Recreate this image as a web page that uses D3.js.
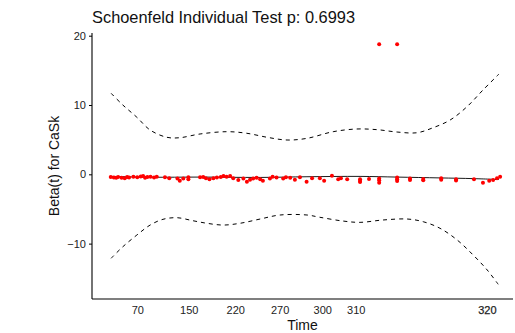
<!DOCTYPE html>
<html>
<head>
<meta charset="utf-8">
<script src="https://cdn.jsdelivr.net/npm/d3@7"></script>
<style>
  body { margin: 0; background: #fff; }
  svg { display: block; font-family: "Liberation Sans", Arial, sans-serif; }
</style>
</head>
<body>
<svg id="chart" width="515" height="333"></svg>
<script>
// transformed (km) time of each residual and its scaled Schoenfeld residual
const residTime = [0.002, 0.010, 0.016, 0.021, 0.030, 0.038, 0.044, 0.049, 0.060, 0.070, 0.079, 0.085,
  0.090, 0.096, 0.104, 0.113, 0.120, 0.141, 0.152, 0.173, 0.179, 0.188, 0.201, 0.201,
  0.231, 0.239, 0.246, 0.255, 0.265, 0.274, 0.284, 0.291, 0.299, 0.308, 0.316,
  0.329, 0.342, 0.351, 0.359, 0.367, 0.376, 0.385, 0.392, 0.410, 0.417, 0.427,
  0.444, 0.451, 0.462, 0.474, 0.487, 0.504, 0.518, 0.538, 0.549, 0.569, 0.585,
  0.592, 0.608, 0.641, 0.641, 0.641, 0.664, 0.690, 0.690, 0.690, 0.736, 0.736,
  0.736, 0.769, 0.769, 0.803, 0.803, 0.849, 0.849, 0.887, 0.887, 0.933, 0.956,
  0.972, 0.982, 0.992, 1.000, 0.690, 0.736];
const residBeta = [-0.40, -0.45, -0.50, -0.38, -0.50, -0.58, -0.40, -0.45, -0.35, -0.42, -0.30, -0.25,
  -0.50, -0.40, -0.35, -0.45, -0.35, -0.43, -0.58, -0.60, -0.92, -0.60, -0.43, -0.70,
  -0.43, -0.40, -0.55, -0.72, -0.55, -0.45, -0.40, -0.25, -0.35, -0.25, -0.58,
  -0.82, -0.60, -1.07, -0.80, -0.60, -0.50, -0.72, -0.92, -0.60, -0.35, -0.45,
  -0.60, -0.43, -0.50, -0.80, -0.43, -1.07, -0.58, -0.58, -0.92, -0.20, -0.72,
  -0.58, -0.72, -0.70, -0.95, -1.10, -0.68, -0.60, -0.85, -1.20, -0.45, -0.70,
  -0.95, -0.82, -0.60, -0.68, -0.85, -0.58, -0.80, -0.72, -0.90, -0.72, -1.21,
  -0.92, -0.82, -0.58, -0.35, 18.76, 18.76];

// smoothed beta(t)
const fitTime = [0.003, 0.103, 0.231, 0.385, 0.505, 0.641, 0.736, 0.846, 0.931, 0.997];
const fitBeta = [-0.30, -0.42, -0.40, -0.45, -0.35, -0.30, -0.40, -0.52, -0.62, -0.75];

// confidence band
const upperTime = [0.003, 0.033, 0.069, 0.103, 0.146, 0.179, 0.231, 0.300, 0.351, 0.403,
  0.454, 0.505, 0.572, 0.633, 0.685, 0.736, 0.787, 0.828, 0.872, 0.915, 0.956, 0.997];
const upperBeta = [11.69, 10.0, 8.23, 6.39, 5.34, 5.28, 5.82, 6.15, 5.92, 5.34,
  4.95, 5.19, 6.15, 6.54, 6.44, 6.10, 6.00, 6.72, 7.84, 9.75, 12.16, 14.47];
const lowerTime = [0.003, 0.033, 0.069, 0.103, 0.136, 0.172, 0.213, 0.249, 0.290, 0.333,
  0.385, 0.436, 0.505, 0.538, 0.597, 0.641, 0.700, 0.762, 0.803, 0.846, 0.890, 0.931,
  0.967, 0.995];
const lowerBeta = [-12.12, -10.45, -8.76, -7.32, -6.49, -6.26, -6.70, -7.07, -7.32, -7.07,
  -6.45, -5.87, -5.87, -6.20, -6.74, -6.93, -6.59, -6.45, -6.84, -7.79, -9.48, -11.65,
  -13.81, -15.87];

// x axis: transformed positions and original time labels
const xTickPos = [0.070, 0.202, 0.321, 0.435, 0.544, 0.630, 0.966];
const xTickLabels = ["70", "150", "220", "270", "300", "310", "320"];
const yTicks = [-10, 0, 10, 20];

const svg = d3.select("#chart");
const panel = { left: 92, right: 513, top: 33, bottom: 299 };

const x = d3.scaleLinear().domain([-0.046, 1.033]).range([panel.left, panel.right]);
const y = d3.scaleLinear().domain([-17.99, 20.39]).range([panel.bottom, panel.top]);

// title
svg.append("text")
  .attr("x", panel.left)
  .attr("y", 23.3)
  .style("font-size", "16.4px")
  .style("fill", "#111")
  .text("Schoenfeld Individual Test p: 0.6993");

// band lines
const line = d3.line().curve(d3.curveCatmullRom);
svg.append("path")
  .attr("d", line(upperTime.map((t, i) => [x(t), y(upperBeta[i])])))
  .attr("fill", "none").attr("stroke", "#000").attr("stroke-width", 1)
  .attr("stroke-dasharray", "4,4");
svg.append("path")
  .attr("d", line(lowerTime.map((t, i) => [x(t), y(lowerBeta[i])])))
  .attr("fill", "none").attr("stroke", "#000").attr("stroke-width", 1)
  .attr("stroke-dasharray", "4,4");

// fitted line
svg.append("path")
  .attr("d", line(fitTime.map((t, i) => [x(t), y(fitBeta[i])])))
  .attr("fill", "none").attr("stroke", "#000").attr("stroke-width", 0.9);

// residual points
svg.append("g").selectAll("circle")
  .data(residTime)
  .join("circle")
  .attr("cx", d => x(d))
  .attr("cy", (d, i) => y(residBeta[i]))
  .attr("r", 2)
  .attr("fill", "#ff0000");

// y axis
const yAxis = svg.append("g")
  .attr("transform", `translate(${panel.left},0)`)
  .call(d3.axisLeft(y).tickValues(yTicks).tickSize(3).tickPadding(3)
    .tickFormat(d => d < 0 ? "\u2212" + Math.abs(d) : d));
yAxis.select(".domain").attr("d", `M0,${panel.top}V${panel.bottom}`).attr("stroke-width", 1.1);
yAxis.selectAll("text").style("font-size", "11px").style("fill", "#222")
  .style("font-family", "'Liberation Sans', Arial, sans-serif");

// x axis
const xAxis = svg.append("g")
  .attr("transform", `translate(0,${panel.bottom})`)
  .call(d3.axisBottom(x).tickValues(xTickPos).tickSize(0).tickPadding(7)
    .tickFormat((d, i) => xTickLabels[i]));
xAxis.select(".domain").attr("d", `M${panel.left},0H${panel.right}`).attr("stroke-width", 1.1);
xAxis.selectAll("text").style("font-size", "11px").style("fill", "#222")
  .style("font-family", "'Liberation Sans', Arial, sans-serif");
// last label is printed several times over itself in the original
xAxis.selectAll("text").filter((d, i) => i === xTickLabels.length - 1)
  .attr("stroke", "#222").attr("stroke-width", 0.25);

// axis titles
svg.append("text")
  .attr("x", (panel.left + panel.right) / 2)
  .attr("y", 330)
  .attr("text-anchor", "middle")
  .style("font-size", "14px")
  .style("fill", "#111")
  .text("Time");

svg.append("text")
  .attr("transform", "translate(58.5,166) rotate(-90)")
  .attr("text-anchor", "middle")
  .style("font-size", "14px")
  .style("fill", "#111")
  .text("Beta(t) for CaSk");
</script>
</body>
</html>
